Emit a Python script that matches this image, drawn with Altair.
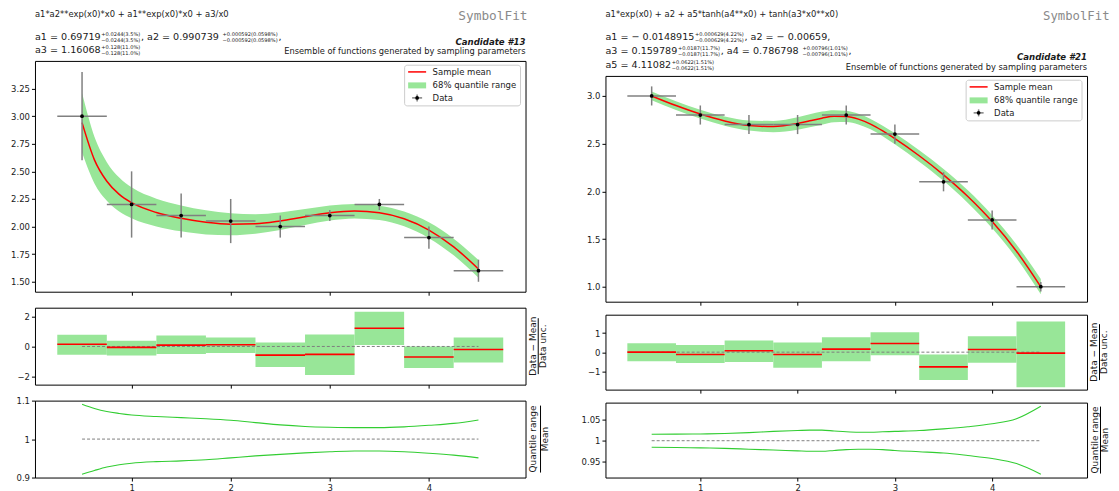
import altair as alt
import pandas as pd

FONT = "DejaVu Sans"
MONO = "DejaVu Sans Mono"
GREEN = "#98e698"
LINE_GREEN = "#32cd32"
GRAY = "#808080"
TXT = "#1a1a1a"

# ---------------- shared binning ----------------
bin_centers = [0.5, 1.0, 1.5, 2.0, 2.5, 3.0, 3.5, 4.0, 4.5]
bin_half = 0.25
x_ticks = [1, 2, 3, 4]
legend_labels = ["Sample mean", "68% quantile range", "Data"]

# ---------------- candidate #13 (left) ----------------
l_formula = "a1*a2**exp(x0)*x0 + a1**exp(x0)*x0 + a3/x0"
l_candidate = "Candidate #13"
l_param_lines = [
    ["a1 = 0.69719", ("+0.0244(3.5%)", "\u22120.0244(3.5%)"), ",  a2 = 0.990739",
     ("+0.000592(0.0598%)", "\u22120.000592(0.0598%)"), ","],
    ["a3 = 1.16068", ("+0.128(11.0%)", "\u22120.128(11.0%)")],
]
l_data_y = [3.0, 2.2, 2.1, 2.05, 2.0, 2.1, 2.2, 1.9, 1.6]
l_data_err = [0.4, 0.3, 0.2, 0.2, 0.1, 0.05, 0.05, 0.1, 0.1]
l_curve_x = [0.5, 0.625, 0.75, 0.875, 1.0, 1.25, 1.5, 1.75, 2.0, 2.25, 2.5, 2.75,
             3.0, 3.25, 3.5, 3.75, 4.0, 4.25, 4.5]
l_mean = [2.941, 2.604, 2.410, 2.291, 2.216, 2.127, 2.075, 2.039, 2.021, 2.025, 2.051,
          2.089, 2.124, 2.140, 2.125, 2.070, 1.968, 1.816, 1.616]
l_ratio_hi = [1.091, 1.080, 1.072, 1.067, 1.063, 1.059, 1.056, 1.053, 1.049, 1.043, 1.037,
              1.033, 1.031, 1.030, 1.030, 1.032, 1.036, 1.041, 1.050]
l_ratio_lo = [0.908, 0.918, 0.927, 0.933, 0.937, 0.941, 0.943, 0.946, 0.951, 0.956, 0.960,
              0.964, 0.967, 0.969, 0.969, 0.967, 0.963, 0.958, 0.951]
l_resid = [0.15, -0.06, 0.09, 0.11, -0.58, -0.53, 1.22, -0.71, -0.2]
l_resid_hi = [0.78, 0.38, 0.73, 0.6, 0.27, 0.8, 2.33, -0.01, 0.6]
l_resid_lo = [-0.56, -0.6, -0.51, -0.44, -1.38, -1.91, 0.09, -1.44, -1.07]

# ---------------- candidate #21 (right) ----------------
r_formula = "a1*exp(x0) + a2 + a5*tanh(a4**x0) + tanh(a3*x0**x0)"
r_candidate = "Candidate #21"
r_param_lines = [
    ["a1 = \u2212 0.0148915", ("+0.000629(4.22%)", "\u22120.000629(4.22%)"), ",  a2 = \u2212 0.00659,"],
    ["a3 = 0.159789", ("+0.0187(11.7%)", "\u22120.0187(11.7%)"), ",  a4 = 0.786798",
     ("+0.00796(1.01%)", "\u22120.00796(1.01%)"), ","],
    ["a5 = 4.11082", ("+0.0622(1.51%)", "\u22120.0622(1.51%)")],
]
r_data_y = [3.0, 2.8, 2.7, 2.7, 2.8, 2.6, 2.1, 1.7, 1.0]
r_data_err = [0.1, 0.1, 0.1, 0.1, 0.1, 0.1, 0.1, 0.1, 0.05]
r_curve_x = [0.5, 0.75, 1.0, 1.25, 1.5, 1.75, 2.0, 2.125, 2.25, 2.375, 2.5, 2.625, 2.75,
             2.875, 3.0, 3.25, 3.5, 3.75, 4.0, 4.25, 4.5]
r_mean = [3.000, 2.899, 2.810, 2.738, 2.691, 2.679, 2.711, 2.739, 2.767, 2.787, 2.785,
          2.757, 2.704, 2.633, 2.552, 2.373, 2.173, 1.946, 1.683, 1.372, 0.999]
r_ratio_hi = [1.0154, 1.0155, 1.016, 1.017, 1.019, 1.022, 1.024, 1.025, 1.025, 1.023, 1.021,
              1.020, 1.020, 1.021, 1.022, 1.024, 1.028, 1.033, 1.040, 1.052, 1.0815]
r_ratio_lo = [0.9846, 0.984, 0.983, 0.982, 0.980, 0.978, 0.976, 0.975, 0.975, 0.977, 0.979,
              0.980, 0.980, 0.979, 0.977, 0.974, 0.971, 0.965, 0.958, 0.946, 0.921]
r_resid = [0.0, -0.12, 0.07, -0.12, 0.16, 0.45, -0.77, 0.14, -0.05]
r_resid_hi = [0.47, 0.37, 0.61, 0.5, 0.78, 1.04, -0.12, 0.83, 1.6]
r_resid_lo = [-0.47, -0.57, -0.52, -0.82, -0.47, -0.16, -1.46, -0.56, -1.83]

# ---------------- layout constants ----------------
WL = 491
WR = 482
X_DOMAIN = [0.025, 4.975]
ONE = pd.DataFrame({"k": [0]})

# DejaVu Sans advance widths (em)
CW = {" ": 0.318, ".": 0.318, ",": 0.318, "(": 0.390, ")": 0.390, "%": 0.950,
      "+": 0.838, "\u2212": 0.838, "=": 0.838, "a": 0.613, "-": 0.361}
for d in "0123456789":
    CW[d] = 0.636


def tw(s, size):
    return sum(CW.get(c, 0.6) for c in s) * size


def param_rows(lines, ys, bsize=9.6, ssize=5.1):
    rows = []
    for tokens, yc in zip(lines, ys):
        x = 0.0
        for t in tokens:
            if isinstance(t, str):
                rows.append({"x": x, "y": yc, "t": t, "s": bsize})
                x += tw(t, bsize)
            else:
                sup, sub = t
                rows.append({"x": x + 0.6, "y": yc - 3.1, "t": sup, "s": ssize})
                rows.append({"x": x + 0.6, "y": yc + 2.9, "t": sub, "s": ssize})
                x += 0.6 + max(tw(sup, ssize), tw(sub, ssize)) + 0.6
    return rows


def header(W, formula, lines, line_ys, cand, cand_y, ens_y, sym_x, sym_align, sym_size, h):
    rows = [{"x": 0, "y": 6, "t": formula, "s": 8.4}] + param_rows(lines, line_ys)
    df = pd.DataFrame(rows)
    reg = alt.Chart(df).mark_text(align="left", baseline="middle", font=FONT, color=TXT).encode(
        x=alt.X("x:Q", scale=None, axis=None),
        y=alt.Y("y:Q", scale=None, axis=None),
        text="t:N",
        size=alt.Size("s:Q", scale=None, legend=None),
    )
    pin = alt.Chart(ONE).mark_rule(strokeOpacity=0, strokeWidth=0.5).encode(
        x=alt.value(0), x2=alt.value(4), y=alt.value(-5))
    c = alt.Chart(ONE).mark_text(align="right", baseline="middle", font=FONT, fontSize=8.6,
                                 fontWeight="bold", fontStyle="italic", color=TXT, text=cand).encode(
        x=alt.value(W), y=alt.value(cand_y))
    e = alt.Chart(ONE).mark_text(align="right", baseline="middle", font=FONT, fontSize=8.3,
                                 color=TXT, text="Ensemble of functions generated by sampling parameters").encode(
        x=alt.value(W), y=alt.value(ens_y))
    s = alt.Chart(ONE).mark_text(align=sym_align, baseline="middle", font=MONO, fontSize=sym_size,
                                 color="#8a8a8a", text="SymbolFit").encode(
        x=alt.value(sym_x), y=alt.value(8))
    return alt.layer(pin, reg, c, e, s).properties(width=W, height=h,
                                                    view=alt.ViewBackground(strokeOpacity=0))


def xenc(field, labels):
    return alt.X(field, scale=alt.Scale(domain=X_DOMAIN, nice=False, zero=False),
                 axis=alt.Axis(values=x_ticks, labels=labels, title=None, format="d"))


def yenc(field, dom, ticks, fmt):
    return alt.Y(field, scale=alt.Scale(domain=dom, nice=False, zero=False),
                 axis=alt.Axis(values=ticks, format=fmt, title=None))


def legend_layers(W):
    one = alt.Chart(ONE)
    L = W - 121
    out = [
        one.mark_rect(fill="white", stroke="#cccccc", strokeWidth=1, cornerRadius=2.5).encode(
            x=alt.value(L), x2=alt.value(W - 5), y=alt.value(4.3), y2=alt.value(45)),
        one.mark_rule(color="red", strokeWidth=1.5).encode(
            x=alt.value(L + 3.5), x2=alt.value(L + 21.5), y=alt.value(11)),
        one.mark_rect(color=GREEN).encode(
            x=alt.value(L + 3.5), x2=alt.value(L + 21.5), y=alt.value(21.5), y2=alt.value(27.5)),
        one.mark_rule(color=GRAY, strokeWidth=1.5).encode(
            x=alt.value(L + 7.5), x2=alt.value(L + 17.5), y=alt.value(37)),
        one.mark_rule(color=GRAY, strokeWidth=1.5).encode(
            x=alt.value(L + 12.5), y=alt.value(33.5), y2=alt.value(40.5)),
        one.mark_circle(color="black", size=14, opacity=1).encode(
            x=alt.value(L + 12.5), y=alt.value(37)),
    ]
    for lab, yy in zip(legend_labels, [11, 24.5, 37]):
        out.append(one.mark_text(align="left", baseline="middle", font=FONT, fontSize=8.5,
                                 color=TXT, text=lab).encode(x=alt.value(L + 28), y=alt.value(yy)))
    return out


def main_panel(W, cx, mean, rhi, rlo, dy, derr, h, ydom, yticks, yfmt):
    cdf = pd.DataFrame({"x": cx, "mean": mean,
                        "hi": [m * r for m, r in zip(mean, rhi)],
                        "lo": [m * r for m, r in zip(mean, rlo)]})
    ddf = pd.DataFrame({"x": bin_centers, "y": dy, "err": derr})
    ddf["xlo"] = ddf["x"] - bin_half
    ddf["xhi"] = ddf["x"] + bin_half
    ddf["ylo"] = ddf["y"] - ddf["err"]
    ddf["yhi"] = ddf["y"] + ddf["err"]
    Y = lambda f: yenc(f, ydom, yticks, yfmt)
    X = lambda f: xenc(f, False)
    band = alt.Chart(cdf).mark_area(color=GREEN, opacity=1, interpolate="monotone").encode(
        x=X("x:Q"), y=Y("lo:Q"), y2="hi:Q")
    line = alt.Chart(cdf).mark_line(color="red", strokeWidth=1.5, interpolate="monotone").encode(
        x=X("x:Q"), y=Y("mean:Q"))
    hb = alt.Chart(ddf).mark_rule(color=GRAY, strokeWidth=1.5).encode(
        x=X("xlo:Q"), x2="xhi:Q", y=Y("y:Q"))
    vb = alt.Chart(ddf).mark_rule(color=GRAY, strokeWidth=1.5).encode(
        x=X("x:Q"), y=Y("ylo:Q"), y2="yhi:Q")
    pts = alt.Chart(ddf).mark_circle(color="black", size=14, opacity=1).encode(
        x=X("x:Q"), y=Y("y:Q"))
    return alt.layer(band, line, hb, vb, pts, *legend_layers(W)).properties(width=W, height=h)


def frac_layers(W, h, num, den, dx_num, dx_bar, dx_den, bar_half, g):
    one = alt.Chart(ONE)
    return [
        one.mark_rule(strokeOpacity=0, strokeWidth=0.5).encode(
            x=alt.value(0), x2=alt.value(4), y=alt.value(-g)),
        one.mark_text(angle=270, align="center", baseline="middle", font=FONT, fontSize=9,
                      color=TXT, text=num).encode(x=alt.value(W + dx_num), y=alt.value(h / 2)),
        one.mark_text(angle=270, align="center", baseline="middle", font=FONT, fontSize=9,
                      color=TXT, text=den).encode(x=alt.value(W + dx_den), y=alt.value(h / 2)),
        one.mark_rule(color="black", strokeWidth=1).encode(
            x=alt.value(W + dx_bar), y=alt.value(h / 2 - bar_half), y2=alt.value(h / 2 + bar_half)),
    ]


def resid_panel(W, res, hi, lo, h, ydom, yticks, g, offs):
    df = pd.DataFrame({"x": bin_centers, "r": res, "hi": hi, "lo": lo})
    df["xlo"] = df["x"] - bin_half
    df["xhi"] = df["x"] + bin_half
    ref = pd.DataFrame({"x": [bin_centers[0], bin_centers[-1]], "y": [0, 0]})
    Y = lambda f: yenc(f, ydom, yticks, "~g")
    X = lambda f: xenc(f, False)
    boxes = alt.Chart(df).mark_rect(color=GREEN).encode(x=X("xlo:Q"), x2="xhi:Q", y=Y("lo:Q"), y2="hi:Q")
    zero = alt.Chart(ref).mark_line(color=GRAY, strokeWidth=1, strokeDash=[3, 2]).encode(
        x=X("x:Q"), y=Y("y:Q"))
    reds = alt.Chart(df).mark_rule(color="red", strokeWidth=1.6).encode(x=X("xlo:Q"), x2="xhi:Q", y=Y("r:Q"))
    fr = frac_layers(W, h, "Data \u2212 Mean", "Data unc.", offs[0], offs[1], offs[2], 28, g)
    return alt.layer(boxes, zero, reds, *fr).properties(width=W, height=h)


def ratio_panel(W, cx, rhi, rlo, h, ydom, yticks, g, offs):
    df = pd.DataFrame({"x": cx, "hi": rhi, "lo": rlo})
    ref = pd.DataFrame({"x": [bin_centers[0], bin_centers[-1]], "y": [1, 1]})
    Y = lambda f: yenc(f, ydom, yticks, "~g")
    X = lambda f: xenc(f, True)
    up = alt.Chart(df).mark_line(color=LINE_GREEN, strokeWidth=1.1, interpolate="monotone").encode(
        x=X("x:Q"), y=Y("hi:Q"))
    dn = alt.Chart(df).mark_line(color=LINE_GREEN, strokeWidth=1.1, interpolate="monotone").encode(
        x=X("x:Q"), y=Y("lo:Q"))
    one_line = alt.Chart(ref).mark_line(color=GRAY, strokeWidth=1, strokeDash=[3, 2]).encode(
        x=X("x:Q"), y=Y("y:Q"))
    fr = frac_layers(W, h, "Quantile range", "Mean", offs[0], offs[1], offs[2], 33.5, g)
    return alt.layer(one_line, up, dn, *fr).properties(width=W, height=h)


left = alt.vconcat(
    header(WL, l_formula, l_param_lines, [29, 42], l_candidate, 34, 44, WL + 2, "right", 12.8, 51.5),
    main_panel(WL, l_curve_x, l_mean, l_ratio_hi, l_ratio_lo, l_data_y, l_data_err, 231,
               [1.41, 3.50], [1.5, 1.75, 2.0, 2.25, 2.5, 2.75, 3.0, 3.25], ".2f"),
    resid_panel(WL, l_resid, l_resid_hi, l_resid_lo, 77, [-2.56, 2.60], [-2, 0, 2], 10.0, (7, 12.7, 17.6)),
    ratio_panel(WL, l_curve_x, l_ratio_hi, l_ratio_lo, 77, [0.8995, 1.1005], [0.9, 1.0, 1.1], 10.5,
                (7.7, 15, 19.7)),
    spacing=0,
)
right = alt.vconcat(
    header(WR, r_formula, r_param_lines, [29, 43, 57], r_candidate, 49, 60, 438, "left", 12.3, 66.5),
    main_panel(WR, r_curve_x, r_mean, r_ratio_hi, r_ratio_lo, r_data_y, r_data_err, 226,
               [0.843, 3.21], [1.0, 1.5, 2.0, 2.5, 3.0], ".1f"),
    resid_panel(WR, r_resid, r_resid_hi, r_resid_lo, 75, [-1.96, 1.96], [-1, 0, 1], 6.6, (7, 12.5, 17)),
    ratio_panel(WR, r_curve_x, r_ratio_hi, r_ratio_lo, 75, [0.913, 1.090], [0.95, 1.0, 1.05], 7.0,
                (7.5, 13.5, 18)),
    spacing=0,
)

chart = alt.hconcat(left, right, spacing=29).properties(
    padding={"left": 2, "top": -5.25, "right": 0, "bottom": 0}
).configure_view(stroke="black", strokeWidth=1).configure_axis(
    labelFont=FONT, labelFontSize=8.5, labelColor=TXT, tickColor="black", tickSize=3.5,
    tickWidth=1, labelPadding=2, domain=False, grid=False
).configure_text(font=FONT)

chart.save("out.html", embed_options={"renderer": "svg", "actions": False})
